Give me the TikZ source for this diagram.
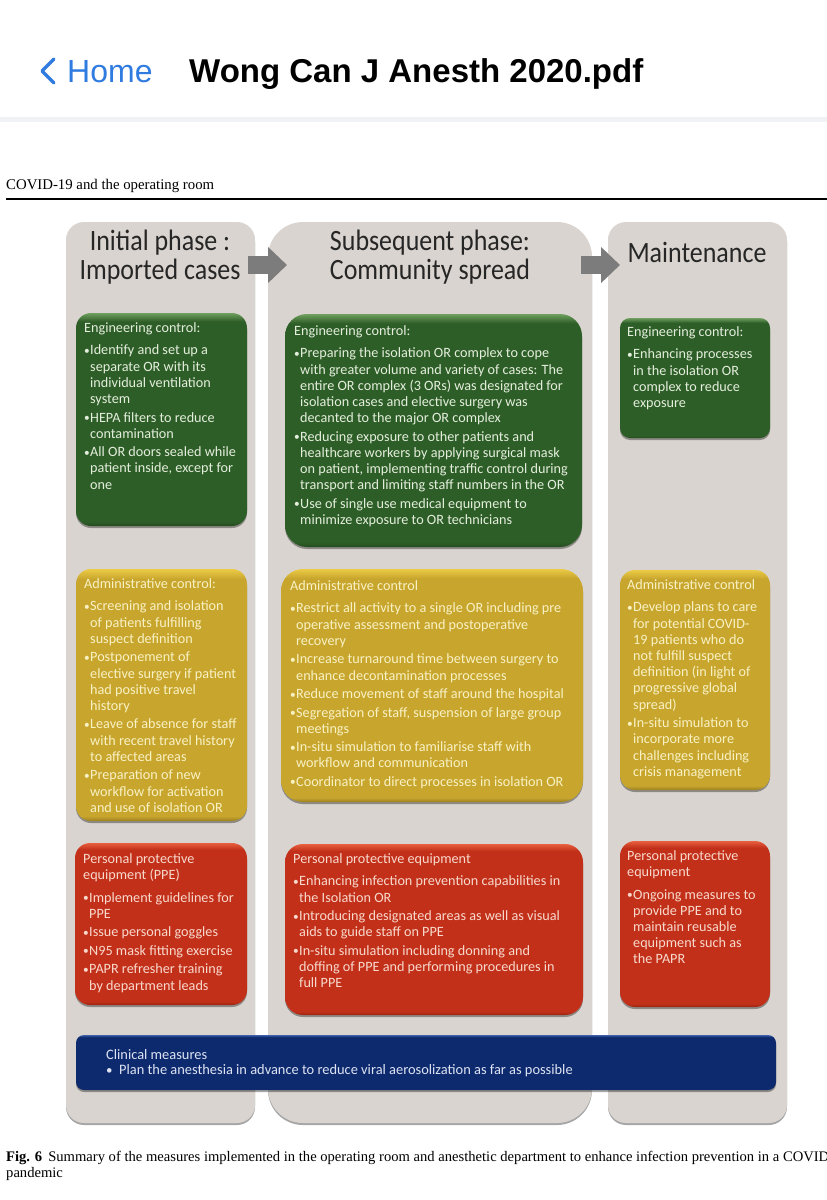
\documentclass[tikz,border=0pt]{standalone}
\usepackage{fontspec}
\setmainfont{Carlito}
\newfontfamily\headfont{Liberation Sans}
\newfontfamily\pagefont{Liberation Serif}
\newfontfamily\titlefont[FakeStretch=0.88]{Carlito}
\usetikzlibrary{arrows.meta,shadows}

\definecolor{panelgrey}{HTML}{D9D4CF}
\definecolor{arrowgrey}{HTML}{7C7C7C}
\definecolor{homeblue}{HTML}{2F7BE0}
\definecolor{bandgrey}{HTML}{F0F2F6}
\definecolor{greenmain}{HTML}{2E5E27}
\definecolor{greenlight}{HTML}{6FA05F}
\definecolor{greendark}{HTML}{244A1E}
\definecolor{yellowmain}{HTML}{C8A62E}
\definecolor{yellowlight}{HTML}{EBCB45}
\definecolor{yellowdark}{HTML}{9C8020}
\definecolor{redmain}{HTML}{C2301A}
\definecolor{redlight}{HTML}{E8603F}
\definecolor{reddark}{HTML}{982412}
\definecolor{bluemain}{HTML}{0E2A6E}
\definecolor{bluelight}{HTML}{3E5FA8}
\definecolor{bluedark}{HTML}{0A1F52}
\definecolor{greentext}{HTML}{E4EEDD}
\definecolor{yellowtext}{HTML}{F8F1C4}
\definecolor{redtext}{HTML}{F8D9CC}
\definecolor{bluetext}{HTML}{DDE3F2}

\pgfdeclareverticalshading{greenfill}{100bp}{color(0bp)=(greendark); color(25bp)=(greendark); color(26bp)=(greenmain); color(73bp)=(greenmain); color(75bp)=(greenlight); color(100bp)=(greenlight)}
\pgfdeclareverticalshading{yellowfill}{100bp}{color(0bp)=(yellowdark); color(25bp)=(yellowdark); color(26bp)=(yellowmain); color(73bp)=(yellowmain); color(75bp)=(yellowlight); color(100bp)=(yellowlight)}
\pgfdeclareverticalshading{redfill}{100bp}{color(0bp)=(reddark); color(25bp)=(reddark); color(26bp)=(redmain); color(73bp)=(redmain); color(75bp)=(redlight); color(100bp)=(redlight)}
\pgfdeclareverticalshading{bluefill}{100bp}{color(0bp)=(bluedark); color(25bp)=(bluedark); color(26bp)=(bluemain); color(73bp)=(bluemain); color(75bp)=(bluelight); color(100bp)=(bluelight)}

\newcommand{\itm}{\makebox[6pt][l]{\raisebox{0.5pt}{\scalebox{0.8}{\textbullet}}}}
\newcommand{\cnt}{\hspace*{6pt}}

\tikzset{
    softshadow/.style={drop shadow={shadow xshift=0pt,shadow yshift=-2pt,fill=black,opacity=.35}},
    panel/.style={draw=none,fill=panelgrey,anchor=north west,inner sep=0pt,outer sep=0pt,softshadow},
    measurebox/.style={anchor=north west,inner sep=0pt,outer sep=0pt,rounded corners=15pt,softshadow},
    greenbox/.style={measurebox,shading=greenfill},
    yellowbox/.style={measurebox,shading=yellowfill},
    redbox/.style={measurebox,shading=redfill},
    bluebox/.style={measurebox,shading=bluefill,rounded corners=8pt},
    boxtext/.style={anchor=north west,inner sep=0pt,align=left,font=\fontsize{14.2pt}{16.2pt}\selectfont},
    phasetitle/.style={anchor=center,inner sep=0pt,align=center,text=black!85,font=\titlefont\fontsize{29.5pt}{29pt}\selectfont},
    phasearrow/.style={draw=arrowgrey,line width=18pt,-{Triangle[length=19pt,width=35pt]}},
}

\begin{document}
\begin{tikzpicture}[x=1pt,y=-1pt]
    \useasboundingbox (0,0) rectangle (827,1200);
    \fill[bandgrey] (0,117) rectangle (827,122);
    \coordinate (chevtop) at (54,59);
    \coordinate (chevmid) at (42,71);
    \coordinate (chevbot) at (54,83);
    \draw[homeblue,line width=3.2pt,line cap=round,line join=round] (chevtop) -- (chevmid) -- (chevbot);
    \draw (67,72) node[anchor=west,inner sep=0pt,text=homeblue,font=\headfont\fontsize{32pt}{36pt}\selectfont] (home) {Home};
    \draw (189,74.5) node[anchor=west,inner sep=0pt,font=\headfont\bfseries\fontsize{33pt}{36pt}\selectfont] (doctitle) {Wong Can J Anesth 2020.pdf};
    \draw (6,185.5) node[anchor=west,inner sep=0pt,font=\pagefont\fontsize{14.8pt}{16pt}\selectfont] (runhead) {COVID-19 and the operating room};
    \coordinate (ruleleft) at (6,198.5);
    \coordinate (ruleright) at (827,198.5);
    \draw[line width=2pt] (ruleleft) -- (ruleright);

    \draw (66,222) node[panel,rounded corners=18pt,minimum width=189pt,minimum height=901pt] (panelinitial) {};
    \draw (268,222) node[panel,rounded corners=35pt,minimum width=324pt,minimum height=901pt] (panelsubsequent) {};
    \draw (608,222) node[panel,rounded corners=18pt,minimum width=179pt,minimum height=901pt] (panelmaintenance) {};

    \draw (160,257.5) node[phasetitle] (titleinitial) {Initial phase :\\Imported cases};
    \draw (430,257.5) node[phasetitle] (titlesubsequent) {Subsequent phase:\\Community spread};
    \draw (697,252) node[phasetitle] (titlemaintenance) {Maintenance};
    \coordinate (arrowinitial) at (248,265);
    \coordinate (arrowsubsequent) at (287,265);
    \coordinate (arrowcommunity) at (581,265);
    \coordinate (arrowmaintenance) at (620,265);
    \draw[phasearrow] (arrowinitial) -- (arrowsubsequent);
    \draw[phasearrow] (arrowcommunity) -- (arrowmaintenance);

    \draw (76,313) node[greenbox,minimum width=171pt,minimum height=213pt] (greeninitial) {};
    \draw (285,314) node[greenbox,rounded corners=22pt,minimum width=297pt,minimum height=233pt] (greensubsequent) {};
    \draw (620,318) node[greenbox,rounded corners=10pt,minimum width=150pt,minimum height=120pt] (greenmaintenance) {};
    \draw (76,569) node[yellowbox,minimum width=171pt,minimum height=252pt] (yellowinitial) {};
    \draw (281,569) node[yellowbox,rounded corners=22pt,minimum width=302pt,minimum height=233pt] (yellowsubsequent) {};
    \draw (620,570) node[yellowbox,minimum width=150pt,minimum height=220pt] (yellowmaintenance) {};
    \draw (75,843) node[redbox,minimum width=172pt,minimum height=162pt] (redinitial) {};
    \draw (285,844) node[redbox,rounded corners=18pt,minimum width=298pt,minimum height=171pt] (redsubsequent) {};
    \draw (620,841) node[redbox,minimum width=150pt,minimum height=166pt] (redmaintenance) {};
    \draw (76,1035) node[bluebox,minimum width=700pt,minimum height=55pt] (blueclinical) {};

    \draw (84,322.5) node[boxtext,text=greentext] (textgreeninitial) {Engineering control:\\[6.2pt]
        \itm Identify and set up a\\ \cnt separate OR with its\\ \cnt individual ventilation\\ \cnt system\\[2.3pt]
        \itm HEPA filters to reduce\\ \cnt contamination\\[2.3pt]
        \itm All OR doors sealed while\\ \cnt patient inside, except for\\ \cnt one};
    \draw (294,325.5) node[boxtext,text=greentext] (textgreensubsequent) {Engineering control:\\[6.2pt]
        \itm Preparing the isolation OR complex to cope\\ \cnt with greater volume and variety of cases: The\\ \cnt entire OR complex (3 ORs) was designated for\\ \cnt isolation cases and elective surgery was\\ \cnt decanted to the major OR complex\\[2.3pt]
        \itm Reducing exposure to other patients and\\ \cnt healthcare workers by applying surgical mask\\ \cnt on patient, implementing traffic control during\\ \cnt transport and limiting staff numbers in the OR\\[2.3pt]
        \itm Use of single use medical equipment to\\ \cnt minimize exposure to  OR technicians};
    \draw (627,326.5) node[boxtext,text=greentext] (textgreenmaintenance) {Engineering control:\\[6.2pt]
        \itm Enhancing processes\\ \cnt in the isolation OR\\ \cnt complex  to reduce\\ \cnt exposure};
    \draw (84,578.5) node[boxtext,text=yellowtext] (textyellowinitial) {Administrative control:\\[6.2pt]
        \itm Screening and isolation\\ \cnt of patients fulfilling\\ \cnt suspect definition\\[2.3pt]
        \itm Postponement of\\ \cnt elective surgery if patient\\ \cnt had positive travel\\ \cnt history\\[2.3pt]
        \itm Leave of absence for staff\\ \cnt with recent travel history\\ \cnt to affected areas\\[2.3pt]
        \itm Preparation of new\\ \cnt workflow for activation\\ \cnt and use of isolation OR};
    \draw (290,580.5) node[boxtext,text=yellowtext] (textyellowsubsequent) {Administrative control\\[6.2pt]
        \itm Restrict all activity to a single OR including pre\\ \cnt operative assessment and postoperative\\ \cnt recovery\\[2.3pt]
        \itm Increase turnaround time between surgery to\\ \cnt enhance decontamination processes\\[2.3pt]
        \itm Reduce movement of staff around the hospital\\[2.3pt]
        \itm Segregation of staff, suspension of large group\\ \cnt meetings\\[2.3pt]
        \itm In-situ simulation to familiarise staff with\\ \cnt workflow  and communication\\[2.3pt]
        \itm Coordinator to direct  processes in isolation OR};
    \draw (627,579.5) node[boxtext,text=yellowtext] (textyellowmaintenance) {Administrative control\\[6.2pt]
        \itm Develop plans to care\\ \cnt for potential COVID-\\ \cnt 19 patients who do\\ \cnt not fulfill suspect\\ \cnt definition (in light of\\ \cnt progressive global\\ \cnt spread)\\[2.3pt]
        \itm In-situ simulation to\\ \cnt incorporate more\\ \cnt challenges including\\ \cnt crisis management};
    \draw (83,853.5) node[boxtext,text=redtext] (textredinitial) {Personal protective\\ equipment (PPE)\\[6.2pt]
        \itm Implement guidelines for\\ \cnt PPE\\[2.3pt]
        \itm Issue personal goggles\\[2.3pt]
        \itm N95 mask fitting exercise\\[2.3pt]
        \itm PAPR refresher  training\\ \cnt by department leads};
    \draw (293,853.5) node[boxtext,text=redtext] (textredsubsequent) {Personal protective equipment\\[6.2pt]
        \itm Enhancing infection prevention capabilities in\\ \cnt the Isolation OR\\[2.3pt]
        \itm Introducing designated areas as well as visual\\ \cnt aids to guide staff on PPE\\[2.3pt]
        \itm In-situ simulation including donning and\\ \cnt doffing  of PPE and performing procedures in\\ \cnt full PPE};
    \draw (627,850.5) node[boxtext,text=redtext] (textredmaintenance) {Personal protective\\ equipment\\[6.2pt]
        \itm Ongoing measures to\\ \cnt provide PPE and to\\ \cnt maintain reusable\\ \cnt equipment such as\\ \cnt the PAPR};
    \draw (106,1049) node[boxtext,text=bluetext,font=\fontsize{14.4pt}{15pt}\selectfont] (textblueclinical) {Clinical measures\\
        \makebox[13pt][l]{\scalebox{0.9}{\textbullet}}Plan the anesthesia in advance to reduce viral aerosolization as far as possible};

    \draw (6,1158) node[anchor=west,inner sep=0pt,font=\pagefont\fontsize{14.6pt}{16pt}\selectfont] (captionfirst) {\textbf{Fig. 6}\hspace{6pt}Summary of the measures implemented in the operating room and anesthetic department to enhance infection prevention in a COVID};
    \draw (6,1174) node[anchor=west,inner sep=0pt,font=\pagefont\fontsize{14.6pt}{16pt}\selectfont] (captionsecond) {pandemic};
\end{tikzpicture}
\end{document}
